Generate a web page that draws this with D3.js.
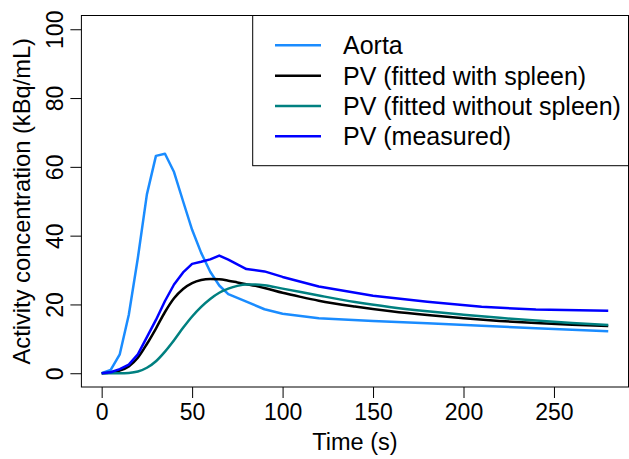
<!DOCTYPE html>
<html>
<head>
<meta charset="utf-8">
<script src="https://cdn.jsdelivr.net/npm/d3@7.8.5/dist/d3.min.js"></script>
<style>
  html, body { margin: 0; padding: 0; background: #fff; }
  svg { display: block; font-family: "Liberation Sans", Arial, Helvetica, sans-serif; }
</style>
</head>
<body>
<svg id="chart" width="629" height="459"></svg>
<script>
// sampled time points (s)
const timeMeasured = [0, 5, 10, 15, 20, 25, 30, 35, 40, 45, 50, 55, 60, 65, 70, 80, 90, 100, 120, 150, 180, 210, 240, 280];
const aorta = [0, 1, 5.5, 17, 33.5, 52, 63.2, 63.8, 58.5, 50, 41.7, 35, 29.5, 25.5, 23, 20.8, 18.6, 17.3, 16.0, 15.2, 14.5, 13.8, 13.1, 12.2];
const pvMeasured = [0, 0.3, 1.2, 2.5, 5.5, 10.5, 15.5, 21, 25.8, 29.3, 31.8, 32.4, 33.1, 34.2, 33, 30.3, 29.6, 28.0, 25.2, 22.5, 20.8, 19.3, 18.5, 18.2];

const timeFit = [0, 5, 10, 15, 20, 25, 30, 35, 40, 45, 50, 55, 60, 65, 70, 75, 80, 85, 90, 100, 110, 120, 140, 160, 180, 200, 220, 240, 260, 280];
const pvFitSpleen = [0, 0.2, 0.8, 2, 4.5, 8.5, 13, 17.8, 21.8, 24.5, 26.2, 27.1, 27.4, 27.3, 26.9, 26.4, 25.9, 25.4, 24.8, 23.4, 22.2, 21.1, 19.4, 18.0, 16.9, 16.0, 15.2, 14.6, 14.1, 13.7];
const pvFitNoSpleen = [0, 0, 0, 0.1, 0.5, 1.6, 3.5, 6.3, 9.6, 13.2, 16.5, 19.3, 21.6, 23.4, 24.6, 25.4, 25.8, 25.8, 25.6, 24.6, 23.6, 22.6, 20.7, 19.2, 18.0, 17.0, 16.1, 15.3, 14.6, 14.05];

const xTicks = [0, 50, 100, 150, 200, 250];
const yTicks = [0, 20, 40, 60, 80, 100];

const seriesNames = ["Aorta", "PV (fitted with spleen)", "PV (fitted without spleen)", "PV (measured)"];
const seriesColors = ["#1a8cff", "#000000", "#008080", "#0000ff"];

const svg = d3.select("#chart");
const box = { left: 81.4, right: 628.5, top: 15.5, bottom: 387 };

// R style 4% padding on each side
const x = d3.scaleLinear().domain([-11.2, 291.2]).range([box.left, box.right]);
const y = d3.scaleLinear().domain([-4, 104]).range([box.bottom, box.top]);

svg.append("defs").append("clipPath").attr("id", "plotclip")
  .append("rect")
  .attr("x", box.left).attr("y", box.top)
  .attr("width", box.right - box.left).attr("height", box.bottom - box.top);

const series = [
  { name: seriesNames[0], t: timeMeasured, v: aorta, curve: d3.curveLinear },
  { name: seriesNames[1], t: timeFit, v: pvFitSpleen, curve: d3.curveMonotoneX },
  { name: seriesNames[2], t: timeFit, v: pvFitNoSpleen, curve: d3.curveMonotoneX },
  { name: seriesNames[3], t: timeMeasured, v: pvMeasured, curve: d3.curveLinear }
];

const lines = svg.append("g").attr("clip-path", "url(#plotclip)");
series.forEach((s, i) => {
  const line = d3.line()
    .x((d, j) => x(s.t[j]))
    .y(d => y(d))
    .curve(s.curve);
  lines.append("path")
    .attr("d", line(s.v))
    .attr("fill", "none")
    .attr("stroke", seriesColors[i])
    .attr("stroke-width", 2.5)
    .attr("stroke-linejoin", "round");
});

// x axis
const gx = svg.append("g")
  .attr("transform", `translate(0,${box.bottom})`)
  .call(d3.axisBottom(x).tickValues(xTicks).tickSize(11).tickFormat(d3.format("d")));
gx.select(".domain").remove();
gx.selectAll(".tick line").attr("stroke", "#000").attr("stroke-width", 1);
gx.selectAll(".tick text")
  .attr("y", 33).attr("dy", 0)
  .attr("fill", "#000")
  .style("font-size", "23px");

// y axis, labels rotated like base R
const gy = svg.append("g")
  .attr("transform", `translate(${box.left},0)`)
  .call(d3.axisLeft(y).tickValues(yTicks).tickSize(11).tickFormat(d3.format("d")));
gy.select(".domain").remove();
gy.selectAll(".tick line").attr("stroke", "#000").attr("stroke-width", 1);
gy.selectAll(".tick text")
  .attr("transform", "rotate(-90)")
  .attr("x", 0).attr("y", -18).attr("dy", 0)
  .attr("text-anchor", "middle")
  .attr("fill", "#000")
  .style("font-size", "23px");

// plot frame
svg.append("rect")
  .attr("x", box.left).attr("y", box.top)
  .attr("width", box.right - box.left).attr("height", box.bottom - box.top)
  .attr("fill", "none").attr("stroke", "#000").attr("stroke-width", 1);

// axis titles
svg.append("text")
  .attr("x", (box.left + box.right) / 2).attr("y", 450)
  .attr("text-anchor", "middle")
  .style("font-size", "23.5px")
  .text("Time (s)");

svg.append("text")
  .attr("transform", `translate(30,${(box.top + box.bottom) / 2}) rotate(-90)`)
  .attr("text-anchor", "middle")
  .style("font-size", "23.7px")
  .text("Activity concentration (kBq/mL)");

// legend
const legend = svg.append("g");
legend.append("rect")
  .attr("x", 252.7).attr("y", box.top)
  .attr("width", box.right - 252.7).attr("height", 165.7 - box.top)
  .attr("fill", "#fff").attr("stroke", "#000").attr("stroke-width", 1);

seriesNames.forEach((name, i) => {
  const ly = 45.3 + i * 30.33;
  legend.append("line")
    .attr("x1", 275).attr("x2", 321)
    .attr("y1", ly).attr("y2", ly)
    .attr("stroke", seriesColors[i]).attr("stroke-width", 2.5);
  legend.append("text")
    .attr("x", 343).attr("y", ly + 9)
    .style("font-size", "25px")
    .text(name);
});
</script>
</body>
</html>
